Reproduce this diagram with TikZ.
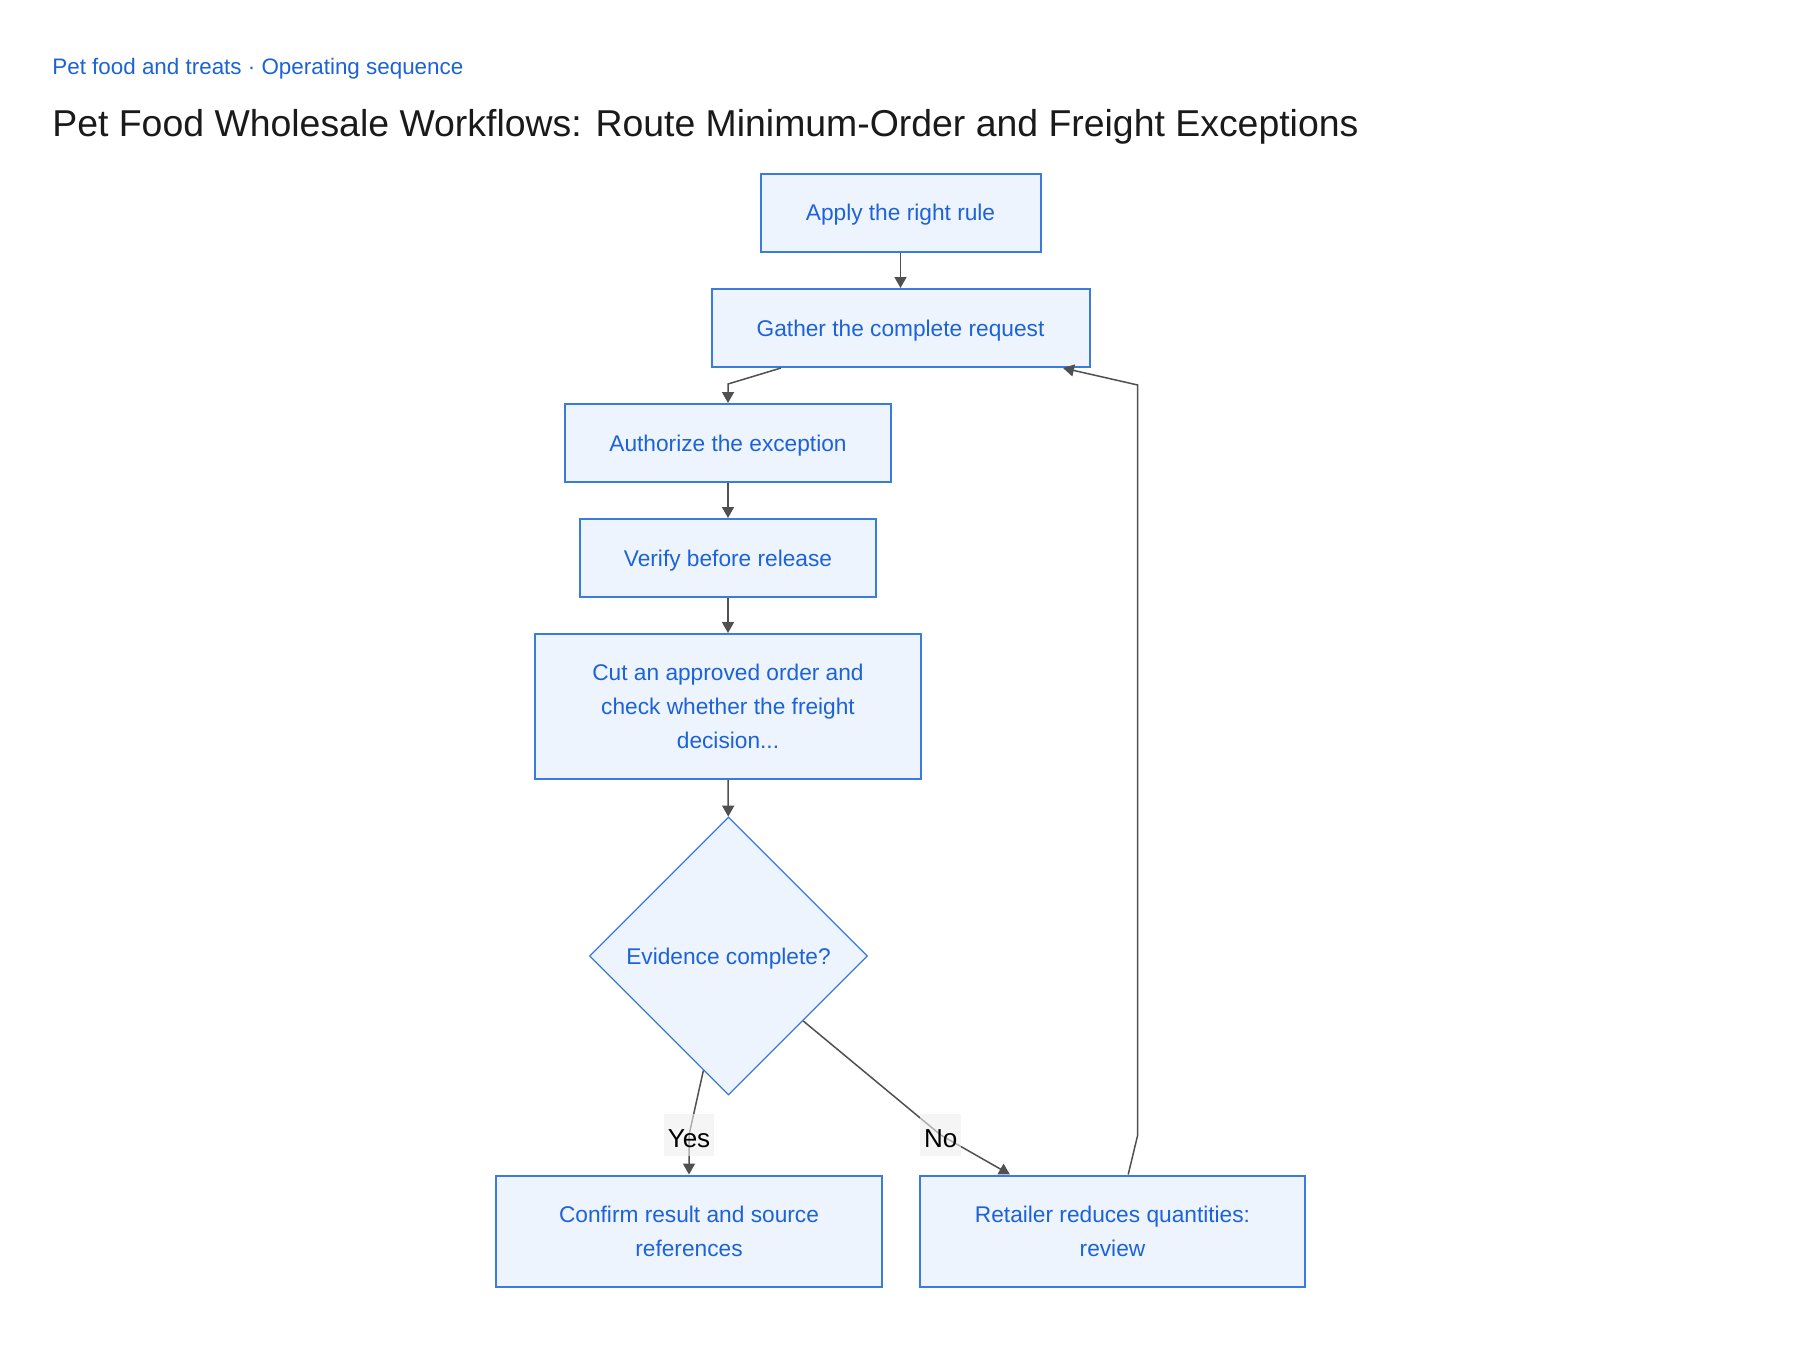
\documentclass[tikz,border=0pt]{standalone}
\usepackage{fontspec}
\setmainfont{Liberation Sans}
\usetikzlibrary{shapes.geometric,arrows.meta,calc}
\definecolor{boxfill}{HTML}{EDF4FE}
\definecolor{boxline}{HTML}{3A7BDE}
\definecolor{boxtext}{HTML}{1C62D8}
\definecolor{edgecol}{HTML}{505050}
\definecolor{titlecol}{HTML}{1A1A1A}
\definecolor{lblbg}{HTML}{EFEFEF}
\begin{document}
\begin{tikzpicture}[x=0.5pt,y=-0.5pt,
  stepbox/.style={draw=boxline,fill=boxfill,line width=1pt,text=boxtext,
    font=\fontsize{11.35pt}{17pt}\selectfont,align=center,inner sep=0pt,minimum height=39pt},
  oneline/.style={text height=8.1pt,text depth=0pt},
  decbox/.style={diamond,aspect=1,draw=boxline,fill=boxfill,line width=0.65pt,text=boxtext,
    font=\fontsize{11.35pt}{17pt}\selectfont,inner sep=0pt,minimum width=139pt,minimum height=139pt,
    text height=8.1pt,text depth=0pt},
  edge/.style={draw=edgecol,line width=0.75pt,-{Triangle[length=5.5pt,width=6pt]}},
  lbl/.style={fill=lblbg,fill opacity=0.6,text opacity=1,text=black,
    font=\fontsize{13pt}{15pt}\selectfont,inner xsep=2pt,inner ysep=0pt,minimum height=21pt,
    text height=12pt,text depth=0pt}
]
\fill[white] (0,0) rectangle (1800,1350);
\useasboundingbox (0,0) rectangle (1800,1350);

\node[anchor=base west,inner sep=0pt,text=boxtext,font=\fontsize{11.2pt}{14pt}\selectfont] (sub) at (52,74) {Pet food and treats · Operating sequence};
\node[anchor=base west,inner sep=0pt,text=titlecol,font=\fontsize{18.7pt}{22pt}\selectfont] (title) at (52,136.7) {Pet Food Wholesale Workflows: Route Minimum-Order and Freight Exceptions};

\node[stepbox,oneline,minimum width=140pt] (apply) at (900.5,212.5) {Apply the right rule};
\node[stepbox,oneline,minimum width=189pt] (gather) at (900.5,328) {Gather the complete request};
\node[stepbox,oneline,minimum width=163pt] (auth) at (728,443) {Authorize the exception};
\node[stepbox,oneline,minimum width=148pt] (verify) at (728,558) {Verify before release};
\node[stepbox,minimum width=192.7pt,minimum height=72.5pt] (cut) at (728,706.5) {Cut an approved order and\\check whether the freight\\decision...};
\node[decbox] (dec) at (728.5,956) {Evidence complete?};
\node[stepbox,minimum width=192.8pt,minimum height=55.5pt] (confirm) at (689,1231) {Confirm result and source\\references};
\node[stepbox,minimum width=192.8pt,minimum height=55.5pt] (retailer) at (1112.5,1231) {Retailer reduces quantities:\\review};

\coordinate (yesc) at (689,1135);
\coordinate (noc) at (940.7,1135);
\coordinate (r1) at (1137.7,1135);
\coordinate (r2) at (1137.7,385);

\draw[edge] (apply) -- (gather);
\draw[edge] ($(gather.south)+(-119.5,0)$) -- ($(auth.north)+(0,-19)$) -- (auth.north);
\draw[edge] (auth) -- (verify);
\draw[edge] (verify) -- (cut);
\draw[edge] (cut) -- (dec);
\draw[edge] ($(dec.south)!0.18!(dec.west)$) -- (yesc) -- (confirm.north);
\draw[edge] ($(dec.south)!0.535!(dec.east)$) -- (noc) -- ($(retailer.north)+(-102.5,0)$);
\draw[edge] ($(retailer.north)+(15.7,0)$) -- (r1) -- (r2) -- ($(gather.south)+(162.5,0)$);

\node[lbl] (yes) at (yesc) {Yes};
\node[lbl] (no) at (noc) {No};
\end{tikzpicture}
\end{document}
